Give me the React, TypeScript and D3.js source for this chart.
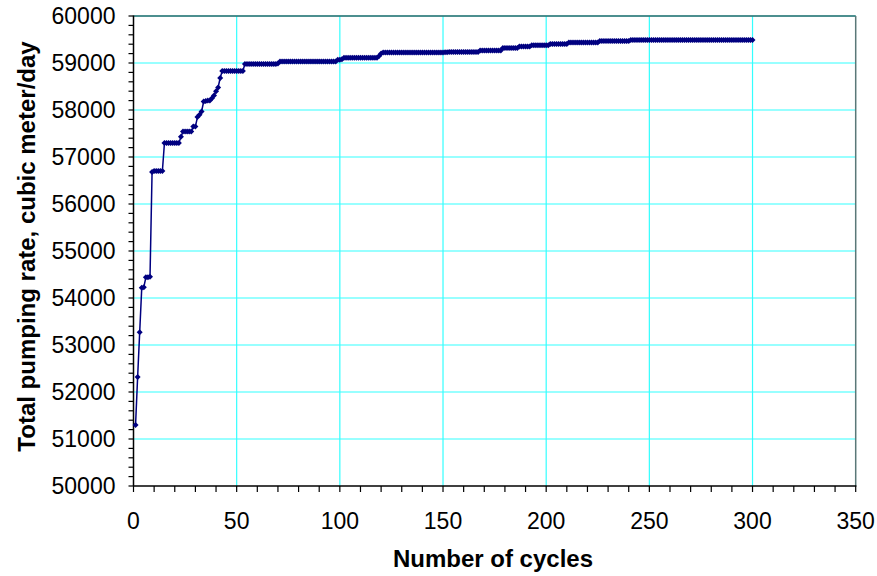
import React from "react";
import * as d3 from "d3";

// Total pumping rate (cubic meter/day) for cycles 1..300
const cycles: number[] = Array.from({ length: 300 }, (_, i) => i + 1);
const pumpingRate: number[] = [
  51300, 52320, 53270, 54220, 54230, 54440, 54440, 54450, 56680, 56700,
  56700, 56700, 56700, 56700, 57300, 57300, 57300, 57300, 57300, 57300,
  57300, 57300, 57430, 57540, 57540, 57540, 57540, 57540, 57650, 57650,
  57850, 57900, 57970, 58180, 58190, 58200, 58200, 58250, 58310, 58400,
  58480, 58680, 58830, 58830, 58830, 58830, 58830, 58830, 58830, 58830,
  58830, 58830, 58830, 58980, 58980, 58980, 58980, 58980, 58980, 58980,
  58980, 58980, 58980, 58980, 58980, 58980, 58980, 58980, 58980, 58990,
  59030, 59030, 59030, 59030, 59030, 59030, 59030, 59030, 59030, 59030,
  59030, 59030, 59030, 59030, 59030, 59030, 59030, 59030, 59030, 59030,
  59030, 59030, 59030, 59030, 59030, 59030, 59030, 59030, 59070, 59070,
  59080, 59110, 59110, 59110, 59110, 59110, 59110, 59110, 59110, 59110,
  59110, 59110, 59110, 59110, 59110, 59110, 59110, 59110, 59150, 59200,
  59225, 59225, 59225, 59225, 59225, 59225, 59225, 59225, 59225, 59225,
  59225, 59225, 59225, 59225, 59225, 59225, 59225, 59225, 59225, 59225,
  59225, 59225, 59225, 59225, 59225, 59225, 59225, 59225, 59225, 59225,
  59230, 59230, 59235, 59235, 59235, 59235, 59235, 59235, 59235, 59235,
  59235, 59235, 59235, 59235, 59235, 59235, 59235, 59265, 59265, 59265,
  59265, 59265, 59265, 59265, 59265, 59265, 59265, 59265, 59320, 59320,
  59320, 59320, 59320, 59320, 59320, 59320, 59350, 59350, 59350, 59350,
  59350, 59350, 59380, 59380, 59380, 59380, 59380, 59380, 59380, 59380,
  59380, 59405, 59405, 59405, 59405, 59405, 59405, 59405, 59405, 59405,
  59435, 59435, 59435, 59435, 59435, 59435, 59435, 59435, 59435, 59435,
  59435, 59435, 59435, 59435, 59435, 59470, 59470, 59470, 59470, 59470,
  59470, 59470, 59470, 59470, 59470, 59470, 59470, 59470, 59470, 59470,
  59490, 59490, 59490, 59490, 59490, 59490, 59490, 59490, 59490, 59490,
  59490, 59490, 59490, 59490, 59490, 59490, 59490, 59490, 59490, 59490,
  59490, 59490, 59490, 59490, 59490, 59490, 59490, 59490, 59490, 59490,
  59490, 59490, 59490, 59490, 59490, 59490, 59490, 59490, 59490, 59490,
  59490, 59490, 59490, 59490, 59490, 59490, 59490, 59490, 59490, 59490,
  59490, 59490, 59490, 59490, 59490, 59490, 59490, 59490, 59490, 59490,
];
const xTicks: number[] = [0, 50, 100, 150, 200, 250, 300, 350];
const yTicks: number[] = [50000, 51000, 52000, 53000, 54000, 55000, 56000, 57000, 58000, 59000, 60000];
const xTitle = "Number of cycles";
const yTitle = "Total pumping rate, cubic meter/day";

const W = 877;
const H = 576;
const left = 133.5;
const right = 855.7;
const top = 16;
const bottom = 486;

export default function App() {
  const x = d3.scaleLinear().domain([0, 350]).range([left, right]);
  const y = d3.scaleLinear().domain([50000, 60000]).range([bottom, top]);
  const data = cycles.map((c, i) => [c, pumpingRate[i]] as [number, number]);
  const line = d3
    .line<[number, number]>()
    .x((d) => x(d[0]))
    .y((d) => y(d[1]));
  const xMinor = d3.range(0, 351, 10);
  const yMinor = d3.range(50000, 60001, 200);
  const font = "'Liberation Sans', Arial, Helvetica, sans-serif";

  return (
    <svg
      width={W}
      height={H}
      style={{ position: "absolute", left: 0, top: 0, background: "#fff" }}
      fontFamily={font}
    >
      {/* grid */}
      {xTicks
        .filter((t) => t > 0 && t < 350)
        .map((t) => (
          <line key={"gx" + t} x1={x(t)} x2={x(t)} y1={top} y2={bottom} stroke="#33ffff" strokeWidth={1.2} />
        ))}
      {yTicks
        .filter((t) => t > 50000)
        .map((t) => (
          <line key={"gy" + t} x1={left} x2={right} y1={y(t)} y2={y(t)} stroke="#33ffff" strokeWidth={1.2} />
        ))}
      {/* plot border top/right */}
      <line x1={left} x2={right} y1={top} y2={top} stroke="#336a6a" strokeWidth={1.5} />
      <line x1={right} x2={right} y1={top} y2={bottom} stroke="#5a7878" strokeWidth={1.5} />
      {/* axes */}
      <line x1={left} x2={left} y1={top - 0.5} y2={bottom} stroke="#000" strokeWidth={1.5} />
      <line x1={left} x2={right + 0.7} y1={bottom} y2={bottom} stroke="#000" strokeWidth={1.5} />
      {yMinor.map((t) => (
        <line key={"ym" + t} x1={left - 5} x2={left} y1={y(t)} y2={y(t)} stroke="#000" strokeWidth={1.2} />
      ))}
      {xMinor.map((t) => (
        <line key={"xm" + t} x1={x(t)} x2={x(t)} y1={bottom} y2={bottom + 6} stroke="#000" strokeWidth={1.2} />
      ))}
      {/* tick labels */}
      {yTicks.map((t) => (
        <text key={"yl" + t} x={left - 18} y={y(t)} dy="0.36em" textAnchor="end" fontSize={23} fill="#000">
          {t}
        </text>
      ))}
      {xTicks.map((t) => (
        <text key={"xl" + t} x={x(t)} y={529} textAnchor="middle" fontSize={23} fill="#000">
          {t}
        </text>
      ))}
      {/* titles */}
      <text x={493} y={567} textAnchor="middle" fontSize={24} fontWeight="bold" fill="#000">
        {xTitle}
      </text>
      <text
        transform={`translate(35, 246.5) rotate(-90)`}
        textAnchor="middle"
        fontSize={24}
        fontWeight="bold"
        fill="#000"
      >
        {yTitle}
      </text>
      {/* series */}
      <path d={line(data) || ""} fill="none" stroke="#000080" strokeWidth={1.5} />
      {data.map((d, i) => {
        const cx = x(d[0]);
        const cy = y(d[1]);
        return (
          <path
            key={"m" + i}
            d={`M${cx},${cy - 3}L${cx + 3},${cy}L${cx},${cy + 3}L${cx - 3},${cy}Z`}
            fill="#000080"
          />
        );
      })}
    </svg>
  );
}
